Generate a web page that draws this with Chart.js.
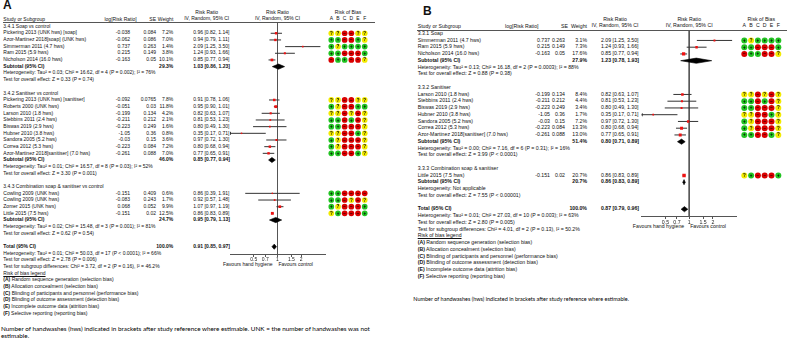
<!DOCTYPE html>
<html>
<head>
<meta charset="utf-8">
<script src="https://cdn.jsdelivr.net/npm/chart.js"></script>
<style>
  html, body { margin: 0; padding: 0; background: #fff; width: 787px; height: 349px; overflow: hidden; position: relative; }
  .t { position: absolute; white-space: nowrap; line-height: 1; font-family: "Liberation Sans", Arial, sans-serif; color: #111; }
  .rule { position: absolute; height: 1px; background: #555; }
  canvas { position: absolute; top: 0; }
</style>
</head>
<body>
<script>
const TICKS = [0.5, 0.7, 1, 1.5, 2];
const FOREST_MIN = 0.25, FOREST_MAX = 4;
const ROB_COLS = ['A', 'B', 'C', 'D', 'E', 'F'];
const ROB_LEGEND = [
    ['(A)', 'Random sequence generation (selection bias)'],
    ['(B)', 'Allocation concealment (selection bias)'],
    ['(C)', 'Blinding of participants and personnel (performance bias)'],
    ['(D)', 'Blinding of outcome assessment (detection bias)'],
    ['(E)', 'Incomplete outcome data (attrition bias)'],
    ['(F)', 'Selective reporting (reporting bias)']
];
const ROB_COLORS = { '+': '#22c322', '?': '#f2ea00', '-': '#d90000' };
const ROB_GLYPH = { '+': '+', '?': '?', '-': '−' };

// panel A
const A_GROUPS = ['3.4.1 Soap vs control', '3.4.2 Sanitiser vs control', '3.4.3 Combination soap & sanitiser vs control'];
const A_GROUP = [0, 0, 0, 0, 0, 1, 1, 1, 1, 1, 1, 1, 1, 1, 2, 2, 2, 2];
const A_STUDY = ['Pickering 2013 (UNK hws) [soap]', 'Azor-Martinez 2018[soap] (UNK hws)', 'Simmerman 2011 (4.7 hws)', 'Ram 2015 (5.9 hws)', 'Nicholson 2014 (16.0 hws)',
    'Pickering 2013 (UNK hws) [sanitiser]', 'Roberts 2000 (UNK hws)', 'Larson 2010 (1.8 hws)', 'Stebbins 2011 (2.4 hws)', 'Biswas 2019 (2.9 hws)', 'Hubner 2010 (3.8 hws)', 'Sandora 2005 (5.2 hws)', 'Correa 2012 (5.3 hws)', 'Azor-Martinez 2018[sanitiser] (7.0 hws)',
    'Cowling 2009 (UNK hws)', 'Cowling 2009 (UNK hws)', 'Zomer 2015 (UNK hws)', 'Little 2015 (7.5 hws)'];
const A_LOGRR = [-0.038, -0.062, 0.737, 0.215, -0.163, -0.092, -0.051, -0.199, -0.211, -0.223, -1.05, -0.03, -0.223, -0.261, -0.151, -0.083, 0.068, -0.151];
const A_SE = [0.084, 0.086, 0.263, 0.149, 0.05, 0.0765, 0.03, 0.134, 0.212, 0.249, 0.36, 0.15, 0.084, 0.088, 0.409, 0.243, 0.052, 0.02];
const A_WEIGHT = [7.2, 7.0, 1.4, 3.8, 10.1, 7.8, 11.8, 4.2, 2.1, 1.6, 0.8, 3.6, 7.2, 7.0, 0.6, 1.7, 9.9, 12.5];
const A_RR = [0.96, 0.94, 2.09, 1.24, 0.85, 0.91, 0.95, 0.82, 0.81, 0.80, 0.35, 0.97, 0.80, 0.77, 0.86, 0.92, 1.07, 0.86];
const A_LO = [0.82, 0.79, 1.25, 0.93, 0.77, 0.78, 0.90, 0.63, 0.53, 0.49, 0.17, 0.72, 0.68, 0.65, 0.39, 0.57, 0.97, 0.83];
const A_HI = [1.14, 1.11, 3.50, 1.66, 0.94, 1.06, 1.01, 1.07, 1.23, 1.30, 0.71, 1.30, 0.94, 0.91, 1.91, 1.48, 1.19, 0.89];
const A_ROB = ['??--??', '++--+?', '+?++++', '++---+', '-++--?', '??--??', '+?--++', '??-?-?', '++-+-?', '++---?', '??--+?', '+?---?', '+?---?', '++--+?', '++----', '++-?-?', '+?---+', '?+---+'];
const A_SUB_WEIGHT = [29.3, 46.0, 24.7];
const A_SUB_RR = [1.03, 0.85, 0.95];
const A_SUB_LO = [0.86, 0.77, 0.79];
const A_SUB_HI = [1.23, 0.94, 1.13];
const A_HET = ['Heterogeneity: Tau² = 0.03; Chi² = 16.62, df = 4 (P = 0.002); I² = 76%',
    'Heterogeneity: Tau² = 0.01; Chi² = 16.57, df = 8 (P = 0.03); I² = 52%',
    'Heterogeneity: Tau² = 0.02; Chi² = 15.48, df = 3 (P = 0.001); I² = 81%'];
const A_TEST = ['Test for overall effect: Z = 0.33 (P = 0.74)', 'Test for overall effect: Z = 3.30 (P = 0.001)', 'Test for overall effect: Z = 0.62 (P = 0.54)'];
const A_TOTAL = [0.91, 0.85, 0.97];
const A_TOTAL_NOTES = ['Heterogeneity: Tau² = 0.01; Chi² = 50.03, df = 17 (P < 0.0001); I² = 66%',
    'Test for overall effect: Z = 2.78 (P = 0.006)',
    'Test for subgroup differences: Chi² = 3.72, df = 2 (P = 0.16), I² = 46.2%'];
const A_FOOTNOTE = ['Number of handwashes (hws) indicated in brackets after study reference where estimable. UNK = the number of handwashes was not', 'estimable.'];

// panel B
const B_GROUPS = ['3.3.1 Soap', '3.3.2 Sanitiser', '3.3.3 Combination soap & sanitiser'];
const B_GROUP = [0, 0, 0, 1, 1, 1, 1, 1, 1, 1, 2];
const B_STUDY = ['Simmerman 2011 (4.7 hws)', 'Ram 2015 (5.9 hws)', 'Nicholson 2014 (16.0 hws)',
    'Larson 2010 (1.8 hws)', 'Stebbins 2011 (2.4 hws)', 'Biswas 2019 (2.9 hws)', 'Hubner 2010 (3.8 hws)', 'Sandora 2005 (5.2 hws)', 'Correa 2012 (5.3 hws)', 'Azor-Martinez 2018[sanitiser] (7.0 hws)',
    'Little 2015 (7.5 hws)'];
const B_LOGRR = [0.737, 0.215, -0.163, -0.199, -0.211, -0.223, -1.05, -0.03, -0.223, -0.261, -0.151];
const B_SE = [0.263, 0.149, 0.05, 0.134, 0.212, 0.249, 0.36, 0.15, 0.084, 0.088, 0.02];
const B_WEIGHT = [3.1, 7.3, 17.6, 8.4, 4.4, 3.4, 1.7, 7.2, 13.3, 13.0, 20.7];
const B_RR = [2.09, 1.24, 0.85, 0.82, 0.81, 0.80, 0.35, 0.97, 0.80, 0.77, 0.86];
const B_LO = [1.25, 0.93, 0.77, 0.63, 0.53, 0.49, 0.17, 0.72, 0.68, 0.65, 0.83];
const B_HI = [3.50, 1.66, 0.94, 1.07, 1.23, 1.30, 0.71, 1.30, 0.94, 0.91, 0.89];
const B_ROB = ['+?++++', '++---+', '-++--?', '??-?-?', '++-+-?', '++---?', '??--+?', '+?---?', '+?---?', '++--+?', '?+---+'];
const B_SUB_WEIGHT = [27.9, 51.4, 20.7];
const B_SUB_RR = [1.23, 0.80, 0.86];
const B_SUB_LO = [0.78, 0.71, 0.83];
const B_SUB_HI = [1.93, 0.89, 0.89];
const B_HET = ['Heterogeneity: Tau² = 0.13; Chi² = 16.18, df = 2 (P = 0.0003); I² = 88%',
    'Heterogeneity: Tau² = 0.00; Chi² = 7.16, df = 6 (P = 0.31); I² = 16%',
    'Heterogeneity: Not applicable'];
const B_TEST = ['Test for overall effect: Z = 0.88 (P = 0.38)', 'Test for overall effect: Z = 3.99 (P < 0.0001)', 'Test for overall effect: Z = 7.55 (P < 0.00001)'];
const B_TOTAL = [0.87, 0.79, 0.96];
const B_TOTAL_NOTES = ['Heterogeneity: Tau² = 0.01; Chi² = 27.03, df = 10 (P = 0.003); I² = 63%',
    'Test for overall effect: Z = 2.80 (P = 0.005)',
    'Test for subgroup differences: Chi² = 4.01, df = 2 (P = 0.13), I² = 50.2%'];
const B_FOOTNOTE = ['Number of handwashes (hws) indicated in brackets after study reference where estimable.'];


const PANELS = [
    {
        title: 'A', groups: A_GROUPS, group: A_GROUP, study: A_STUDY, logrr: A_LOGRR, se: A_SE, weight: A_WEIGHT,
        rr: A_RR, lo: A_LO, hi: A_HI, rob: A_ROB, subWeight: A_SUB_WEIGHT, subRR: A_SUB_RR, subLo: A_SUB_LO, subHi: A_SUB_HI,
        het: A_HET, test: A_TEST, total: A_TOTAL, totalNotes: A_TOTAL_NOTES, footnote: A_FOOTNOTE,
        lay: {
            fs: 5, titleX: 3, titleY: 6, x0: 3.3, logR: 130, logHeadR: 136.7, seR: 156, seHeadR: 156, wR: 173.3, rrL: 193.3, rrC: 206.7,
            fL: 230, fR: 325, robX0: 331.3, robDX: 6.68, robR: 2.85, line0: 26.6, lh: 6.67,
            head1: 12.5, head2: 18.6, head2L: 19.6, hline: 22.3, ruleL: 3, ruleR: 375,
            canvasL: 220, canvasW: 110, canvasH: 270, axisOff: 1.15, footX: 1, footY: [330, 337], footW: 369
        }
    },
    {
        title: 'B', groups: B_GROUPS, group: B_GROUP, study: B_STUDY, logrr: B_LOGRR, se: B_SE, weight: B_WEIGHT,
        rr: B_RR, lo: B_LO, hi: B_HI, rob: B_ROB, subWeight: B_SUB_WEIGHT, subRR: B_SUB_RR, subLo: B_SUB_LO, subHi: B_SUB_HI,
        het: B_HET, test: B_TEST, total: B_TOTAL, totalNotes: B_TOTAL_NOTES, footnote: B_FOOTNOTE,
        lay: {
            fs: 5.2, titleX: 423, titleY: 12, x0: 417.7, logR: 550, logHeadR: 538.5, seR: 565, seHeadR: 568, wR: 587, rrL: 601, rrC: 615,
            fL: 641.7, fR: 736.7, robX0: 744.3, robDX: 6.8, robR: 3, line0: 33.7, lh: 6.75,
            head1: 20, head2: 25.5, head2L: 27.3, hline: 30.3, ruleL: 417, ruleR: 787,
            canvasL: 630, canvasW: 112, canvasH: 235, axisOff: 1.15, footX: 413.3, footY: [300], footW: 216
        }
    }
];

function put(x, y, s, o) {
    o = o || {};
    const fs = o.fs || 5;
    const el = document.createElement('div');
    el.className = 't';
    if (o.html) el.innerHTML = s; else el.textContent = s;
    el.style.fontSize = fs + 'px';
    if (o.bold) el.style.fontWeight = 'bold';
    if (o.u) el.style.textDecoration = 'underline';
    if (o.font) el.style.fontFamily = o.font;
    el.style.top = (y - fs * 0.56) + 'px';
    el.style.left = '0px';
    document.body.appendChild(el);
    const w = el.getBoundingClientRect().width;
    if (o.align === 'right') el.style.left = (x - w) + 'px';
    else if (o.align === 'center') el.style.left = (x - w / 2) + 'px';
    else el.style.left = x + 'px';
    return el;
}

function ciText(rr, lo, hi) {
    return `${rr.toFixed(2)} [${lo.toFixed(2)}, ${hi.toFixed(2)}]`;
}

function makeCanvas(left, w, h) {
    const c = document.createElement('canvas');
    c.width = w; c.height = h;
    c.style.left = left + 'px';
    document.body.appendChild(c);
    return c;
}

function layoutRows(P) {
    const rows = [], studyLine = [], subLine = [];
    let line = 0;
    P.groups.forEach((g, gi) => {
        rows.push({ line: line++, text: g });
        P.study.forEach((s, i) => { if (P.group[i] === gi) { studyLine[i] = line; rows.push({ line: line++, study: i }); } });
        subLine[gi] = line; rows.push({ line: line++, sub: gi });
        rows.push({ line: line++, text: P.het[gi] });
        rows.push({ line: line++, text: P.test[gi] });
        line++;
    });
    const totalLine = line;
    rows.push({ line: line++, total: true });
    P.totalNotes.forEach(t => rows.push({ line: line++, text: t }));
    rows.push({ line: line++, legendHead: true });
    ROB_LEGEND.forEach((t, k) => rows.push({ line: line++, legend: k }));
    return { rows, studyLine, subLine, totalLine };
}

function drawText(P, R) {
    const L = P.lay, fs = L.fs;
    const ly = i => L.line0 + i * L.lh;
    put(L.titleX, L.titleY, P.title, { fs: 12, bold: true });

    const fC = (L.fL + L.fR) / 2, robC = L.robX0 + L.robDX * 2.5;
    put(L.rrC, L.head1, 'Risk Ratio', { fs, align: 'center' });
    put(L.rrC, L.head2, 'IV, Random, 95% CI', { fs, align: 'center' });
    put(fC, L.head1, 'Risk Ratio', { fs, align: 'center' });
    put(fC, L.head2, 'IV, Random, 95% CI', { fs, align: 'center' });
    put(robC, L.head1, 'Risk of Bias', { fs, align: 'center' });
    ROB_COLS.forEach((c, k) => put(L.robX0 + k * L.robDX, L.head2, c, { fs, align: 'center' }));
    put(L.x0, L.head2L, 'Study or Subgroup', { fs });
    put(L.logHeadR, L.head2L, 'log[Risk Ratio]', { fs, align: 'right' });
    put(L.seHeadR, L.head2L, 'SE', { fs, align: 'right' });
    put(L.wR, L.head2L, 'Weight', { fs, align: 'right' });

    const rule = document.createElement('div');
    rule.className = 'rule';
    rule.style.left = L.ruleL + 'px';
    rule.style.width = (L.ruleR - L.ruleL) + 'px';
    rule.style.top = (L.hline - 0.5) + 'px';
    document.body.appendChild(rule);

    R.rows.forEach(r => {
        const y = ly(r.line);
        if (r.text) {
            put(L.x0, y, r.text, { fs });
        } else if (r.study !== undefined) {
            const i = r.study;
            put(L.x0, y, P.study[i], { fs });
            put(L.logR, y, String(P.logrr[i]), { fs, align: 'right' });
            put(L.seR, y, String(P.se[i]), { fs, align: 'right' });
            put(L.wR, y, P.weight[i].toFixed(1) + '%', { fs, align: 'right' });
            put(L.rrL, y, ciText(P.rr[i], P.lo[i], P.hi[i]), { fs });
        } else if (r.sub !== undefined) {
            const g = r.sub;
            put(L.x0, y, 'Subtotal (95% CI)', { fs, bold: true });
            put(L.wR, y, P.subWeight[g].toFixed(1) + '%', { fs, bold: true, align: 'right' });
            put(L.rrL, y, ciText(P.subRR[g], P.subLo[g], P.subHi[g]), { fs, bold: true });
        } else if (r.total) {
            put(L.x0, y, 'Total (95% CI)', { fs, bold: true });
            put(L.wR, y, '100.0%', { fs, bold: true, align: 'right' });
            put(L.rrL, y, ciText(P.total[0], P.total[1], P.total[2]), { fs, bold: true });
        } else if (r.legendHead) {
            put(L.x0, y, 'Risk of bias legend', { fs, u: true });
        } else if (r.legend !== undefined) {
            put(L.x0, y, `<b>${ROB_LEGEND[r.legend][0]}</b> ${ROB_LEGEND[r.legend][1]}`, { fs, html: true });
        }
    });

    // favours labels sit under the axis
    const axisY = ly(R.totalLine + L.axisOff);
    put(fC - 5, axisY + 10, 'Favours hand hygiene', { fs, align: 'right' });
    put(fC + 1, axisY + 10, 'Favours control', { fs });

    // footnote, fitted to the width it has in the figure
    const first = put(L.footX, L.footY[0], P.footnote[0], { fs: 6, font: 'Lato, sans-serif' });
    const size = 6 * L.footW / first.getBoundingClientRect().width;
    first.remove();
    P.footnote.forEach((t, k) => put(L.footX, L.footY[k], t, { fs: size, font: 'Lato, sans-serif' }).style.color = '#000');
}

const robGlyphs = {
    id: 'robGlyphs',
    afterDatasetsDraw(chart) {
        const ctx = chart.ctx;
        chart.data.datasets.forEach((ds, di) => {
            if (!ds.glyphs) return;
            const meta = chart.getDatasetMeta(di);
            ctx.save();
            ctx.font = 'bold 4.5px "Liberation Sans"';
            ctx.fillStyle = '#000';
            ctx.textAlign = 'center';
            ctx.textBaseline = 'middle';
            meta.data.forEach((pt, j) => ctx.fillText(ds.glyphs[j], pt.x, pt.y + 0.3));
            ctx.restore();
        });
    }
};

const baseOptions = () => ({
    responsive: false, animation: false, events: [],
    plugins: { legend: { display: false }, tooltip: { enabled: false } }
});

function drawForest(P, R) {
    const L = P.lay;
    const canvas = makeCanvas(L.canvasL, L.canvasW, L.canvasH);
    const padL = L.fL - L.canvasL, padR = L.canvasL + L.canvasW - L.fR;
    const yMin = -L.line0 / L.lh, yMax = (L.canvasH - L.line0) / L.lh;
    const axisLine = R.totalLine + L.axisOff;
    const headLine = (L.hline - L.line0) / L.lh;
    const dh = 2.6 / L.lh;

    const ci = [], squares = [], arrows = [];
    P.study.forEach((s, i) => {
        const y = R.studyLine[i];
        ci.push({ x: P.lo[i], y }, { x: P.hi[i], y }, { x: P.hi[i], y: null });
        squares.push({ x: P.rr[i], y });
        if (P.lo[i] < FOREST_MIN) arrows.push({ x: FOREST_MIN, y });
    });

    const pooled = P.subRR.map((v, g) => [R.subLine[g], v, P.subLo[g], P.subHi[g]]);
    pooled.push([R.totalLine, P.total[0], P.total[1], P.total[2]]);
    const diamonds = pooled.map(([y, est, lo, hi]) => ({
        data: [{ x: lo, y }, { x: est, y: y - dh }, { x: hi, y }, { x: est, y: y + dh }, { x: lo, y }],
        showLine: true, fill: 'shape', backgroundColor: '#000', borderColor: '#000', borderWidth: 0.6, pointRadius: 0, order: 1
    }));

    const opts = baseOptions();
    opts.layout = { padding: { left: padL, right: padR, top: 0, bottom: 0 }, autoPadding: false };
    opts.scales = {
        x: {
            type: 'logarithmic', min: FOREST_MIN, max: FOREST_MAX, position: { y: axisLine },
            afterBuildTicks: ax => { ax.ticks = TICKS.map(v => ({ value: v })); },
            ticks: { callback: v => String(v), autoSkip: false, maxRotation: 0, padding: 0.5, color: '#222', font: { size: L.fs, family: 'Liberation Sans' } },
            grid: { display: true, drawOnChartArea: false, drawTicks: true, tickLength: 2, color: '#555' },
            border: { display: true, color: '#555', width: 1 }
        },
        y: { type: 'linear', min: yMin, max: yMax, reverse: true, display: false }
    };

    new Chart(canvas, {
        type: 'scatter',
        data: {
            datasets: [
                { data: squares, pointStyle: 'rect', pointRadius: c => 0.7 + 0.38 * Math.sqrt(P.weight[c.dataIndex]), backgroundColor: '#ee1111', borderWidth: 0, order: 0 },
                { data: ci, showLine: true, spanGaps: false, borderColor: '#333', borderWidth: 1, pointRadius: 0, order: 2 },
                { data: arrows, pointStyle: 'triangle', rotation: 270, pointRadius: 2, backgroundColor: '#333', borderWidth: 0, order: 1 },
                ...diamonds,
                { data: [{ x: 1, y: headLine }, { x: 1, y: axisLine }], showLine: true, borderColor: '#555', borderWidth: 1, pointRadius: 0, order: 3 }
            ]
        },
        options: opts
    });
}

function drawRob(P, R) {
    const L = P.lay;
    const left = Math.floor(L.robX0 - L.robDX * 0.6);
    const w = Math.ceil(L.robDX * 6.2);
    const canvas = makeCanvas(left, w, L.canvasH);
    const xMin = -(L.robX0 - left) / L.robDX, xMax = xMin + w / L.robDX;
    const yMin = -L.line0 / L.lh, yMax = (L.canvasH - L.line0) / L.lh;

    const pts = [], cols = [], syms = [];
    P.rob.forEach((code, i) => code.split('').forEach((c, k) => {
        pts.push({ x: k, y: R.studyLine[i] });
        cols.push(ROB_COLORS[c]);
        syms.push(ROB_GLYPH[c]);
    }));

    const opts = baseOptions();
    opts.layout = { padding: 0, autoPadding: false };
    opts.scales = {
        x: { type: 'linear', min: xMin, max: xMax, display: false },
        y: { type: 'linear', min: yMin, max: yMax, reverse: true, display: false }
    };

    new Chart(canvas, {
        type: 'scatter',
        data: { datasets: [{ data: pts, pointStyle: 'circle', pointRadius: L.robR, backgroundColor: cols, borderWidth: 0, glyphs: syms }] },
        options: opts,
        plugins: [robGlyphs]
    });
}

PANELS.forEach(P => {
    const R = layoutRows(P);
    drawText(P, R);
    drawForest(P, R);
    drawRob(P, R);
});
</script>
</body>
</html>
